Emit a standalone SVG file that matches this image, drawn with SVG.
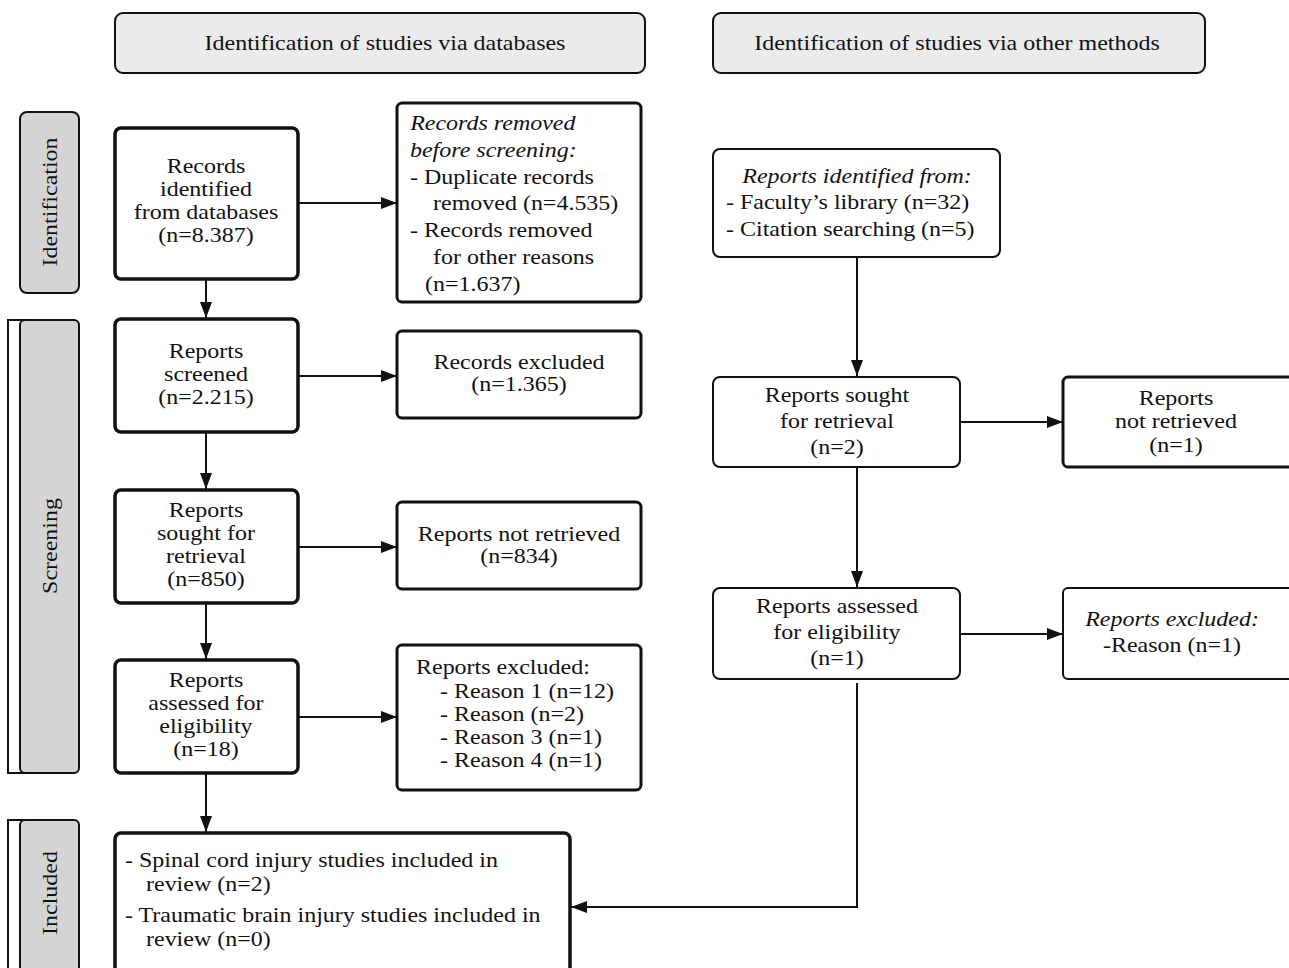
<svg xmlns="http://www.w3.org/2000/svg" width="1289" height="968" viewBox="0 0 1289 968">
<defs>
<style>
text{font-family:"Liberation Serif","Times New Roman",serif;font-size:20.8px;fill:#111;transform-box:fill-box;transform-origin:left center;transform:scaleX(1.154)}
text.c{text-anchor:middle;transform-origin:center}
.i{font-style:italic}
.hdr{fill:#ebebeb;stroke:#111;stroke-width:2}
.side{fill:#d4d4d4;stroke:#111;stroke-width:2}
.strip{fill:#fff;stroke:#111;stroke-width:2}
.thick{fill:#fff;stroke:#111;stroke-width:3.5}
.mid{fill:#fff;stroke:#111;stroke-width:3}
.thin{fill:#fff;stroke:#111;stroke-width:2}
.ln{fill:none;stroke:#111;stroke-width:2}
</style>
<marker id="ah" markerWidth="16" markerHeight="12" refX="16" refY="6" orient="auto" markerUnits="userSpaceOnUse">
<path d="M0,0 L16,6 L0,12 Z" fill="#111"/>
</marker>
</defs>
<rect width="1289" height="968" fill="#fff"/>

<g id="header-db">
<rect class="hdr" x="115" y="13" width="530" height="60" rx="8"/>
<text class="c" x="385" y="50">Identification of studies via databases</text>
</g>
<g id="header-other">
<rect class="hdr" x="713" y="13" width="492" height="60" rx="8"/>
<text class="c" x="957" y="50">Identification of studies via other methods</text>
</g>

<g id="side-identification">
<rect class="side" x="20" y="112" width="59" height="181" rx="7"/>
<g transform="translate(57,202) rotate(-90)"><text class="c" x="0" y="0">Identification</text></g>
</g>
<g id="side-screening">
<rect class="strip" x="8" y="320" width="20" height="453"/>
<rect class="side" x="20" y="320" width="59" height="453" rx="5"/>
<g transform="translate(57,546) rotate(-90)"><text class="c" x="0" y="0">Screening</text></g>
</g>
<g id="side-included">
<rect class="strip" x="8" y="820" width="20" height="160"/>
<rect class="side" x="20" y="820" width="59" height="160" rx="5"/>
<g transform="translate(57,893) rotate(-90)"><text class="c" x="0" y="0">Included</text></g>
</g>

<g id="records-identified">
<rect class="thick" x="115" y="128" width="183" height="151" rx="6"/>
<text class="c" x="206" y="173">Records</text>
<text class="c" x="206" y="196">identified</text>
<text class="c" x="206" y="219">from databases</text>
<text class="c" x="206" y="242">(n=8.387)</text>
</g>
<g id="records-removed">
<rect class="mid" x="397" y="103" width="244" height="199" rx="5"/>
<text class="i" x="410" y="130">Records removed</text>
<text class="i" x="410" y="157">before screening:</text>
<text x="410" y="184">- Duplicate records</text>
<text x="433" y="210">removed (n=4.535)</text>
<text x="410" y="237">- Records removed</text>
<text x="433" y="264">for other reasons</text>
<text x="425" y="291">(n=1.637)</text>
</g>
<g id="reports-screened">
<rect class="thick" x="115" y="319" width="183" height="113" rx="6"/>
<text class="c" x="206" y="358">Reports</text>
<text class="c" x="206" y="381">screened</text>
<text class="c" x="206" y="404">(n=2.215)</text>
</g>
<g id="records-excluded">
<rect class="mid" x="397" y="331" width="244" height="87" rx="5"/>
<text class="c" x="519" y="369">Records excluded</text>
<text class="c" x="519" y="391">(n=1.365)</text>
</g>
<g id="reports-sought-db">
<rect class="thick" x="115" y="490" width="183" height="113" rx="6"/>
<text class="c" x="206" y="517">Reports</text>
<text class="c" x="206" y="540">sought for</text>
<text class="c" x="206" y="563">retrieval</text>
<text class="c" x="206" y="586">(n=850)</text>
</g>
<g id="reports-not-retrieved-db">
<rect class="mid" x="397" y="502" width="244" height="87" rx="5"/>
<text class="c" x="519" y="541">Reports not retrieved</text>
<text class="c" x="519" y="563">(n=834)</text>
</g>
<g id="reports-assessed-db">
<rect class="thick" x="115" y="660" width="183" height="113" rx="6"/>
<text class="c" x="206" y="687">Reports</text>
<text class="c" x="206" y="710">assessed for</text>
<text class="c" x="206" y="733">eligibility</text>
<text class="c" x="206" y="756">(n=18)</text>
</g>
<g id="reports-excluded-db">
<rect class="mid" x="397" y="645" width="244" height="145" rx="5"/>
<text x="416" y="674">Reports excluded:</text>
<text x="440" y="698">- Reason 1 (n=12)</text>
<text x="440" y="721">- Reason (n=2)</text>
<text x="440" y="744">- Reason 3 (n=1)</text>
<text x="440" y="767">- Reason 4 (n=1)</text>
</g>
<g id="included">
<rect class="thick" x="115" y="833" width="455" height="140" rx="6"/>
<text x="125" y="867">- Spinal cord injury studies included in</text>
<text x="146" y="891">review (n=2)</text>
<text x="125" y="922">- Traumatic brain injury studies included in</text>
<text x="146" y="946">review (n=0)</text>
</g>

<g id="reports-identified-other">
<rect class="thin" x="713" y="149" width="287" height="108" rx="7"/>
<text class="c i" x="857" y="183">Reports identified from:</text>
<text x="726" y="209">- Faculty’s library (n=32)</text>
<text x="726" y="236">- Citation searching (n=5)</text>
</g>
<g id="reports-sought-other">
<rect class="thin" x="713" y="377" width="247" height="90" rx="7"/>
<text class="c" x="837" y="402">Reports sought</text>
<text class="c" x="837" y="428">for retrieval</text>
<text class="c" x="837" y="454">(n=2)</text>
</g>
<g id="reports-not-retrieved-other">
<rect class="mid" x="1063" y="377" width="240" height="90" rx="5"/>
<text class="c" x="1176" y="405">Reports</text>
<text class="c" x="1176" y="428">not retrieved</text>
<text class="c" x="1176" y="452">(n=1)</text>
</g>
<g id="reports-assessed-other">
<rect class="thin" x="713" y="588" width="247" height="91" rx="7"/>
<text class="c" x="837" y="613">Reports assessed</text>
<text class="c" x="837" y="639">for eligibility</text>
<text class="c" x="837" y="665">(n=1)</text>
</g>
<g id="reports-excluded-other">
<rect class="thin" x="1063" y="588" width="240" height="91" rx="5"/>
<text class="c i" x="1172" y="626">Reports excluded:</text>
<text class="c" x="1172" y="652">-Reason (n=1)</text>
</g>

<g id="connectors">
<line class="ln" x1="298" y1="203" x2="397" y2="203" marker-end="url(#ah)"/>
<line class="ln" x1="206" y1="279" x2="206" y2="318" marker-end="url(#ah)"/>
<line class="ln" x1="298" y1="376" x2="397" y2="376" marker-end="url(#ah)"/>
<line class="ln" x1="206" y1="432" x2="206" y2="489" marker-end="url(#ah)"/>
<line class="ln" x1="298" y1="547" x2="397" y2="547" marker-end="url(#ah)"/>
<line class="ln" x1="206" y1="603" x2="206" y2="659" marker-end="url(#ah)"/>
<line class="ln" x1="298" y1="717" x2="397" y2="717" marker-end="url(#ah)"/>
<line class="ln" x1="206" y1="773" x2="206" y2="832" marker-end="url(#ah)"/>
<line class="ln" x1="857" y1="257" x2="857" y2="376" marker-end="url(#ah)"/>
<line class="ln" x1="960" y1="422" x2="1063" y2="422" marker-end="url(#ah)"/>
<line class="ln" x1="857" y1="467" x2="857" y2="587" marker-end="url(#ah)"/>
<line class="ln" x1="960" y1="634" x2="1063" y2="634" marker-end="url(#ah)"/>
<polyline class="ln" points="857,683 857,907 571,907" marker-end="url(#ah)"/>
</g>
</svg>
